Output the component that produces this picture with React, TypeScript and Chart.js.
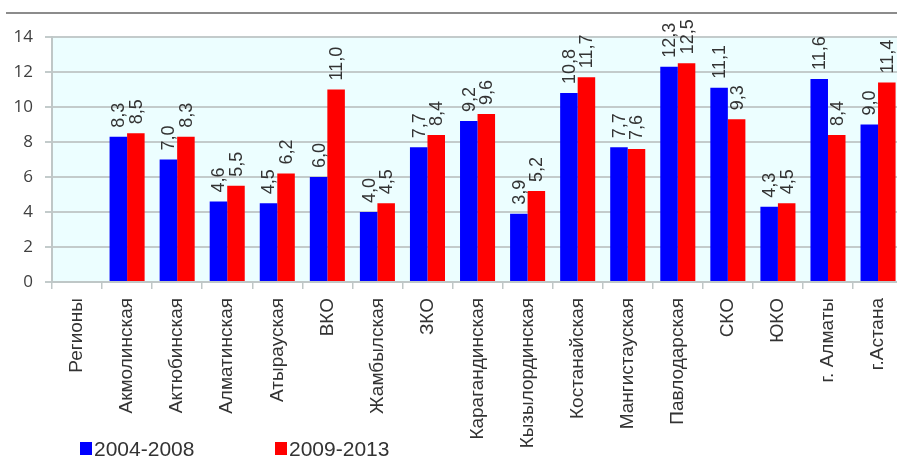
import React, { useEffect, useRef } from 'react';
import { Chart, registerables } from 'chart.js';

Chart.register(...registerables);

const categories = [
  'Регионы', 'Акмолинская', 'Актюбинская', 'Алматинская', 'Атырауская', 'ВКО',
  'Жамбылская', 'ЗКО', 'Карагандинская', 'Кызылординская', 'Костанайская',
  'Мангистауская', 'Павлодарская', 'СКО', 'ЮКО', 'г. Алматы', 'г.Астана',
];
const series2004_2008 = [null, 8.3, 7.0, 4.6, 4.5, 6.0, 4.0, 7.7, 9.2, 3.9, 10.8, 7.7, 12.3, 11.1, 4.3, 11.6, 9.0];
const series2009_2013 = [null, 8.5, 8.3, 5.5, 6.2, 11.0, 4.5, 8.4, 9.6, 5.2, 11.7, 7.6, 12.5, 9.3, 4.5, 8.4, 11.4];
const seriesLabels = ['2004-2008', '2009-2013'];
const seriesColors = ['#0000ff', '#ff0000'];
const yTicks = [0, 2, 4, 6, 8, 10, 12, 14];

const bgPlugin = {
  id: 'bgPlugin',
  beforeDraw(chart: any) {
    const { ctx, chartArea } = chart;
    ctx.save();
    ctx.fillStyle = '#ecfeff';
    ctx.fillRect(chartArea.left, chartArea.top, chartArea.right - chartArea.left, chartArea.bottom - chartArea.top);
    ctx.strokeStyle = '#8c8c8c';
    ctx.lineWidth = 2;
    ctx.beginPath();
    ctx.moveTo(6, 13);
    ctx.lineTo(chart.width, 13);
    ctx.stroke();
    ctx.restore();
  },
};

const labelPlugin = {
  id: 'labelPlugin',
  afterDatasetsDraw(chart: any) {
    const { ctx } = chart;
    ctx.save();
    ctx.font = '18px "Liberation Sans", Arial, sans-serif';
    ctx.fillStyle = '#333333';
    ctx.textAlign = 'left';
    ctx.textBaseline = 'middle';
    chart.data.datasets.forEach((ds: any, di: number) => {
      const meta = chart.getDatasetMeta(di);
      meta.data.forEach((bar: any, i: number) => {
        const v = ds.data[i];
        if (v === null || v === undefined) return;
        const txt = v.toFixed(1).replace('.', ',');
        ctx.save();
        ctx.translate(bar.x + 1, bar.y - 9);
        ctx.rotate(-Math.PI / 2);
        ctx.fillText(txt, 0, 0);
        ctx.restore();
      });
    });
    ctx.restore();
  },
};

const legendPlugin = {
  id: 'customLegend',
  afterDraw(chart: any) {
    const { ctx } = chart;
    ctx.save();
    ctx.font = '21px "Liberation Sans", Arial, sans-serif';
    ctx.textBaseline = 'alphabetic';
    ctx.textAlign = 'left';
    const starts = [80, 275];
    chart.data.datasets.forEach((ds: any, i: number) => {
      const x = starts[i];
      ctx.fillStyle = ds.backgroundColor;
      ctx.fillRect(x, 442, 12, 13);
      ctx.fillStyle = '#333333';
      ctx.fillText(ds.label, x + 14, 456);
    });
    ctx.restore();
  },
};

export default function App() {
  const ref = useRef<HTMLCanvasElement | null>(null);
  useEffect(() => {
    if (!ref.current) return;
    const chart = new Chart(ref.current, {
      type: 'bar',
      data: {
        labels: categories,
        datasets: [
          { label: seriesLabels[0], data: series2004_2008, backgroundColor: seriesColors[0], categoryPercentage: 0.7, barPercentage: 1.0 },
          { label: seriesLabels[1], data: series2009_2013, backgroundColor: seriesColors[1], categoryPercentage: 0.7, barPercentage: 1.0 },
        ],
      },
      options: {
        animation: false,
        responsive: false,
        maintainAspectRatio: false,
        layout: { padding: { left: 0, top: 37, right: 5, bottom: 0 } },
        plugins: { legend: { display: false }, tooltip: { enabled: false } },
        scales: {
          x: {
            offset: true,
            grid: { display: true, drawOnChartArea: false, drawTicks: true, tickLength: 7, color: '#bfc7c7', lineWidth: 1.5, offset: true },
            border: { display: true, color: '#bfc7c7', width: 2 },
            ticks: {
              autoSkip: false, maxRotation: 90, minRotation: 90, padding: 9,
              font: { family: '"Liberation Sans", Arial, sans-serif', size: 19 },
              color: '#333333',
            },
            afterFit: (s: any) => { s.height = 175; },
          },
          y: {
            min: 0, max: 14,
            afterBuildTicks: (s: any) => { s.ticks = yTicks.map((v) => ({ value: v })); },
            ticks: {
              padding: 12,
              font: { family: '"Open Sans", sans-serif', size: 17 },
              color: '#404040',
            },
            grid: { color: '#c3cbcb', lineWidth: 2, tickLength: 7 },
            border: { display: true, color: '#bfc7c7', width: 2 },
            afterFit: (s: any) => { s.width = 52; },
          },
        },
      } as any,
      plugins: [bgPlugin, labelPlugin, legendPlugin],
    });
    return () => chart.destroy();
  }, []);
  return (
    <div style={{ position: 'absolute', left: 0, top: 0, width: 897, height: 457, overflow: 'hidden', background: '#ffffff' }}>
      <canvas ref={ref} width={910} height={457} style={{ display: 'block' }} />
    </div>
  );
}
